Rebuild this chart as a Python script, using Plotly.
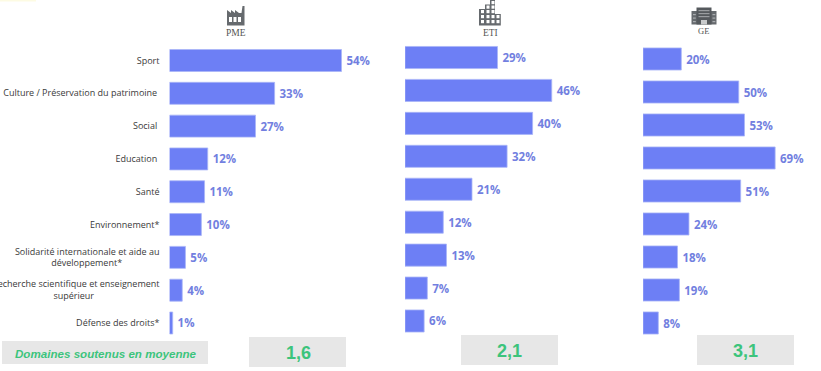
import plotly.graph_objects as go

W, H = 821, 371
NB = "\u00a0"

categories = [
    "Sport",
    "Culture / Préservation du patrimoine" + NB,
    "Social" + NB,
    "Education" + NB,
    "Santé",
    "Environnement*",
    "Solidarité internationale et aide au<br>développement*" + NB * 16,
    "Recherche scientifique et enseignement<br>supérieur" + NB * 28,
    "Défense des droits*",
]
pme = [54, 33, 27, 12, 11, 10, 5, 4, 1]
eti = [29, 46, 40, 32, 21, 12, 13, 7, 6]
ge = [20, 50, 53, 69, 51, 24, 18, 19, 8]
groups = ["PME", "ETI", "GE"]
averages = ["1,6", "2,1", "3,1"]
avg_label = "Domaines soutenus en moyenne"

BAR = "#6d7ff5"
LABEL = "#727fe0"
GREEN = "#3cc47c"
BOX = "#e7e7e7"
ICON = "#666a6e"


def px(x):
    return x / W


def py(y):
    return 1 - y / H


def rect(x0, y0, x1, y1, color, layer="above"):
    return dict(type="rect", xref="paper", yref="paper", x0=px(x0), x1=px(x1),
                y0=py(y1), y1=py(y0), fillcolor=color, line_width=0, layer=layer)


def poly(points, color):
    path = "M" + "L".join(f"{px(a):.5f},{py(b):.5f}" for a, b in points) + "Z"
    return dict(type="path", xref="paper", yref="paper", path=path,
                fillcolor=color, line_width=0, layer="above")


# pixel frames of the three panels: x at zero, x scale (px per %), first/last row centres
panels = [
    dict(vals=pme, x0=169.5, scale=3.185, top=60.5, bottom=323.0),
    dict(vals=eti, x0=405.0, scale=3.19, top=57.5, bottom=321.0),
    dict(vals=ge, x0=643.0, scale=1.915, top=59.0, bottom=323.0),
]

fig = go.Figure()
layout = {}
for i, p in enumerate(panels):
    n = "" if i == 0 else str(i + 1)
    step = (p["bottom"] - p["top"]) / 8
    ytop = p["top"] - step / 2
    ybot = p["bottom"] + step / 2
    xmax = 70 if i < 2 else 85
    xright = min(p["x0"] + xmax * p["scale"], W)
    xspan = (xright - p["x0"]) / p["scale"]
    fig.add_trace(go.Bar(
        x=p["vals"], y=categories, orientation="h",
        xaxis="x" + n, yaxis="y" + n,
        marker=dict(color=BAR, line=dict(color="#a9b5f7", width=0.8)),
        width=0.67,
        text=[f"\u2009{v}%" for v in p["vals"]],
        textposition="outside", cliponaxis=False,
        textfont=dict(family="Open Sans", size=11.5, color=LABEL, weight=700),
        hoverinfo="skip", showlegend=False,
    ))
    layout["xaxis" + n] = dict(domain=[px(p["x0"]), px(xright)], range=[0, xspan],
                               visible=False, anchor="y" + n, fixedrange=True,
                               automargin=False)
    layout["yaxis" + n] = dict(
        domain=[py(ybot), py(ytop)], autorange=False, range=[8.5, -0.5],
        type="category", categoryorder="array", categoryarray=categories,
        anchor="x" + n, showline=False, showgrid=False, zeroline=False, automargin=False,
        ticks="", showticklabels=(i == 0), ticklabelstandoff=9,
        tickfont=dict(family="Open Sans", size=9.0, color="#3a3a3a"),
    )

shapes = [
    rect(0, 0, 36, 1.5, "#fdfbe3", "below"),
    rect(2, 341, 208, 364, BOX, "below"),
    rect(249, 337, 346, 367, BOX, "below"),
    rect(461, 335, 558, 365, BOX, "below"),
    rect(697, 335, 794, 365, BOX, "below"),
]

# factory icon (PME)
shapes.append(poly([(227, 25.5), (227, 10), (231, 13), (231, 10), (235, 13), (235, 10), (239, 13),
                    (241.5, 13), (242.5, 6), (244.5, 6), (244.5, 25.5)], ICON))
for x in (229, 233.5, 238):
    shapes.append(rect(x, 17, x + 3, 22, "#ffffff"))

# stepped tower icon (ETI)
shapes.append(poly([(479, 25.5), (479, 9), (485, 9), (485, 4.5), (490, 4.5), (490, 0), (495, 0),
                    (495, 14), (500.8, 14), (500.8, 25.5)], ICON))
for r, (ya, cols) in enumerate([(1, [491.5]), (5.5, [486.5, 491.5]),
                                (10, [481, 486.5, 491.5]), (15, [481, 486.5, 491.5, 496.5]),
                                (20, [481, 486.5, 491.5, 496.5])]):
    for x in cols:
        shapes.append(rect(x, ya, x + 3, ya + 3.2, "#ffffff"))

# office block icon (GE)
shapes.append(rect(691.5, 11, 716.5, 24.5, ICON))
shapes.append(rect(696.5, 7.5, 711.5, 24.5, "#55595d"))
for y in (10, 13, 16):
    shapes.append(rect(698.5, y, 709.5, y + 1.2, "#9a9da0"))
for x in (693, 712.5):
    for y in (14, 17.5, 21):
        shapes.append(rect(x, y, x + 2.8, y + 1.2, "#a9acaf"))
shapes.append(rect(701, 20, 707, 24.5, "#c8cacc"))

annotations = []


def note(x, y, text, font, **kw):
    annotations.append(dict(x=px(x), y=py(y), xref="paper", yref="paper", text=text,
                            showarrow=False, font=font, xanchor="center", yanchor="middle", **kw))


for x, y, g, s in zip((236, 490, 703), (32.5, 33.5, 30.5), groups, (9.5, 9.5, 8.5)):
    note(x, y, g, dict(family="Liberation Serif", size=s, color="#555555"))
for x, y, v in zip((298, 509, 745), (352.5, 350.5, 350.5), averages):
    note(x, y, v, dict(family="Liberation Sans", size=18, color=GREEN, weight=700))
note(105.5, 353, avg_label, dict(family="Liberation Sans", size=11.6, color=GREEN, weight=700, style="italic"))

fig.update_layout(
    width=W, height=H, margin=dict(l=0, r=0, t=0, b=0), autosize=False,
    paper_bgcolor="#ffffff", plot_bgcolor="rgba(0,0,0,0)",
    shapes=shapes, annotations=annotations, bargap=0.33, **layout,
)
fig.write_html("out.html", config=dict(displayModeBar=False),
               post_script="document.body.style.margin='0';document.documentElement.style.overflow='hidden';")
